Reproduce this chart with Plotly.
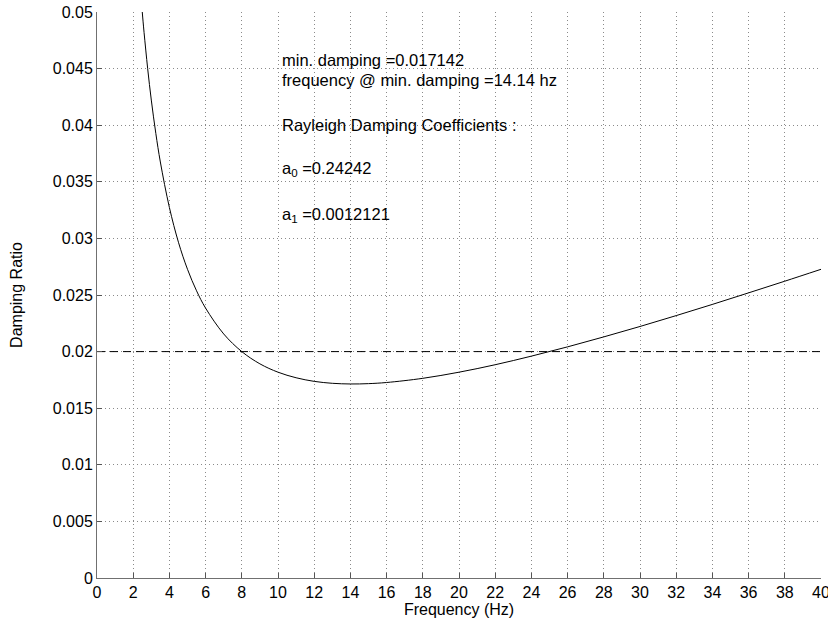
import plotly.graph_objects as go

# Curve values (frequency in Hz, damping ratio)
freq = [2.4, 2.5, 2.6, 2.8, 3.0, 3.25, 3.5, 4.0, 4.5, 5.0, 5.5, 6.0, 7.0, 8.0, 9.0,
        10.0, 11.0, 12.0, 13.0, 14.0, 15.0, 16.0, 18.0, 20.0, 22.0, 24.0, 26.0,
        28.0, 30.0, 32.0, 34.0, 36.0, 38.0, 40.0]
damping = [0.05196, 0.05000, 0.04820, 0.04499, 0.04222, 0.03927, 0.03675, 0.03273,
           0.02966, 0.02727, 0.02537, 0.02384, 0.02156, 0.02000, 0.01892, 0.01818,
           0.01769, 0.01737, 0.01720, 0.01714, 0.01717, 0.01727, 0.01764, 0.01818,
           0.01884, 0.01960, 0.02042, 0.02130, 0.02222, 0.02318, 0.02417, 0.02519,
           0.02622, 0.02727]

target_x = [0, 40]
target_y = [0.02, 0.02]

x_ticks = list(range(0, 41, 2))
y_ticks = [0, 0.005, 0.01, 0.015, 0.02, 0.025, 0.03, 0.035, 0.04, 0.045, 0.05]
y_labels = ["0", "0.005", "0.01", "0.015", "0.02", "0.025", "0.03", "0.035", "0.04", "0.045", "0.05"]

notes = [
    ("min. damping =0.017142", 0.04576),
    ("frequency @ min. damping =14.14 hz", 0.04399),
    ("Rayleigh Damping Coefficients :", 0.04002),
    ("a<sub>0</sub> =0.24242", 0.03613),
    ("a<sub>1</sub> =0.0012121", 0.03207),
]
note_x = 10.1

FONT = "Liberation Sans, Arial, sans-serif"

fig = go.Figure()
fig.add_trace(go.Scatter(x=target_x, y=target_y, mode="lines",
                         line=dict(color="black", width=1, dash="8px,5px"),
                         showlegend=False, hoverinfo="skip"))
fig.add_trace(go.Scatter(x=freq, y=damping, mode="lines", line_shape="spline",
                         line=dict(color="black", width=1),
                         showlegend=False))

for txt, yv in notes:
    fig.add_annotation(x=note_x, y=yv, text=txt, showarrow=False,
                       xanchor="left", yanchor="middle",
                       font=dict(family=FONT, size=16.5, color="black"))

axis_common = dict(
    showline=True, linecolor="#707070", linewidth=1,
    ticks="inside", ticklen=5, tickcolor="#555555",
    showgrid=True, gridcolor="#8a8a8a", gridwidth=1, griddash="1px,3px",
    zeroline=False, mirror=False, automargin=False,
    tickfont=dict(family=FONT, size=16, color="black"),
)

fig.update_xaxes(range=[0, 40], tickvals=x_ticks, ticktext=[str(v) for v in x_ticks],
                 ticklabeloverflow="allow",
                 title=dict(text="Frequency (Hz)", standoff=2,
                            font=dict(family=FONT, size=16, color="black")),
                 **axis_common)
fig.update_yaxes(range=[0, 0.05], tickvals=y_ticks, ticktext=y_labels,
                 ticklabeloverflow="allow",
                 title=dict(text="Damping Ratio", standoff=26,
                            font=dict(family=FONT, size=16, color="black")),
                 **axis_common)

fig.update_layout(
    width=828, height=627,
    margin=dict(l=97, r=7, t=12, b=49),
    plot_bgcolor="white", paper_bgcolor="white",
    showlegend=False,
)

fig.write_html("out.html")
